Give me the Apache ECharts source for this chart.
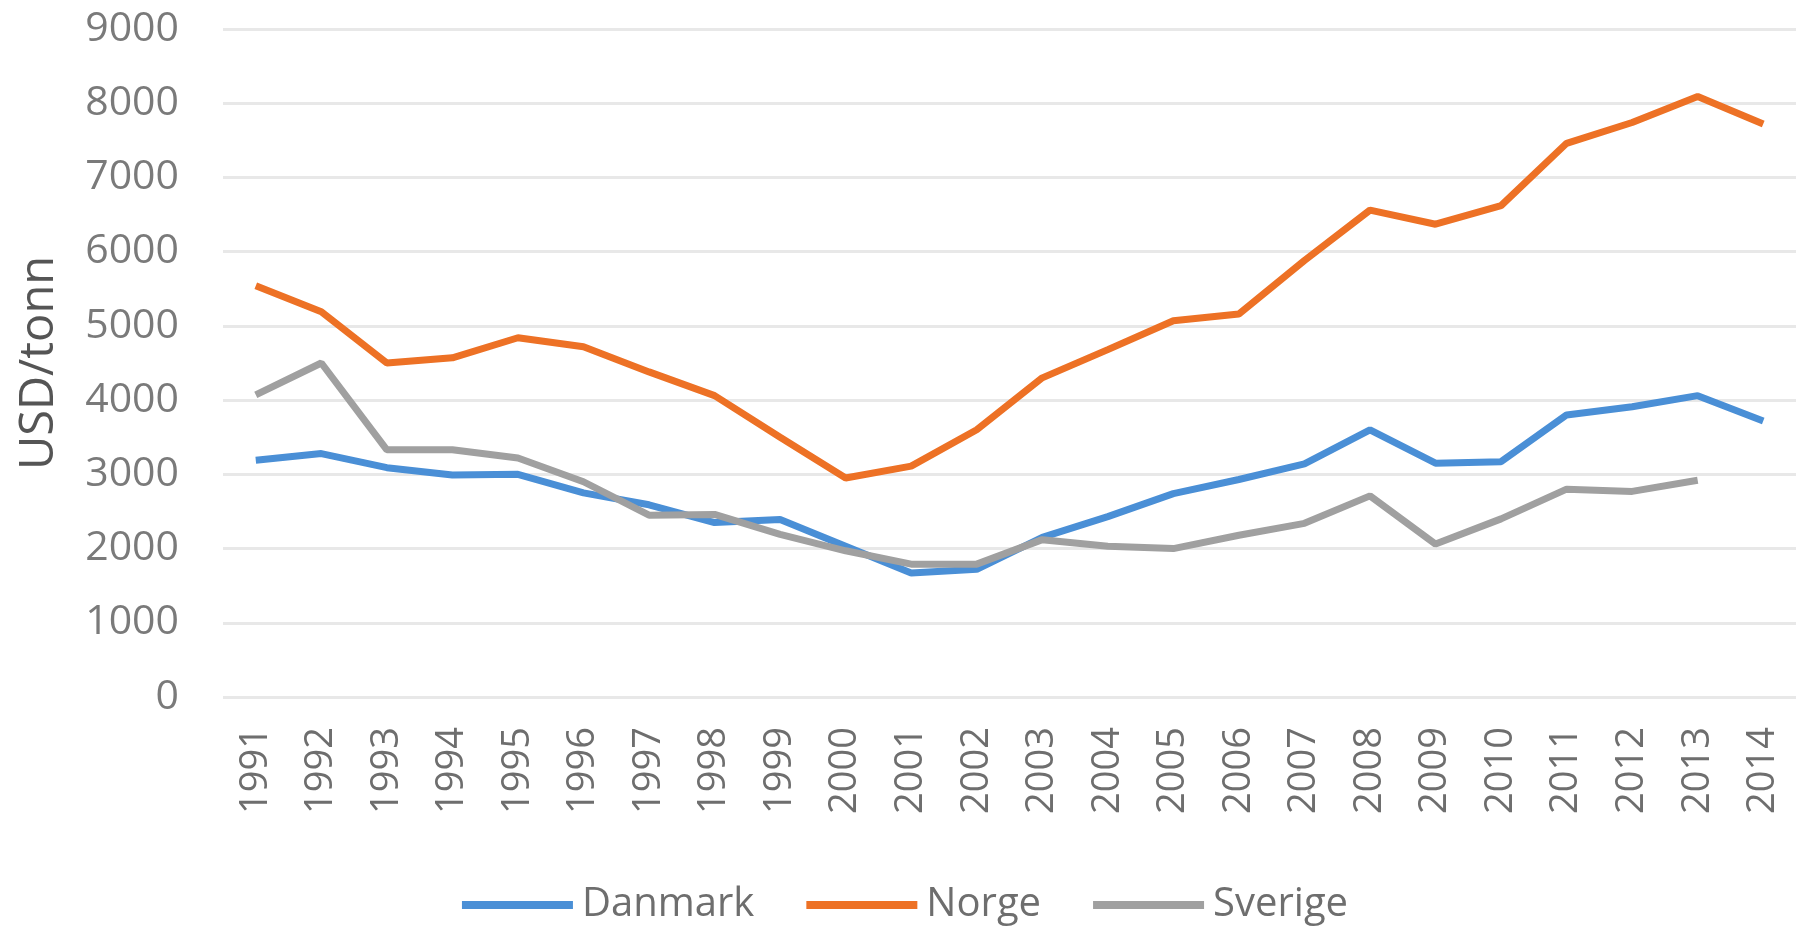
<!DOCTYPE html>
<html>
<head>
<meta charset="utf-8">
<script src="https://cdn.jsdelivr.net/npm/echarts@6/dist/echarts.min.js"></script>
<style>
  html, body { margin: 0; padding: 0; background: #fff; }
  #main { width: 1810px; height: 930px; }
</style>
</head>
<body>
<div id="main"></div>
<script>
// år
var years = ['1991', '1992', '1993', '1994', '1995', '1996', '1997', '1998', '1999', '2000',
  '2001', '2002', '2003', '2004', '2005', '2006', '2007', '2008', '2009', '2010',
  '2011', '2012', '2013', '2014'];

// USD/tonn
var danmark = [3190, 3280, 3090, 2990, 3000, 2750, 2590, 2350, 2390, 2030,
  1670, 1720, 2150, 2430, 2740, 2930, 3140, 3600, 3150, 3170,
  3800, 3910, 4060, 3720];
var norge = [5540, 5190, 4500, 4570, 4840, 4720, 4380, 4060, 3500, 2950,
  3110, 3600, 4300, 4680, 5070, 5160, 5880, 6560, 6370, 6620,
  7460, 7740, 8090, 7720];
var sverige = [4070, 4500, 3330, 3330, 3220, 2900, 2450, 2460, 2190, 1970,
  1790, 1790, 2120, 2030, 2000, 2180, 2340, 2710, 2060, 2400,
  2800, 2770, 2920, null];

var yTicks = { min: 0, max: 9000, interval: 1000 };

var fontName = '"Open Sans", "Noto Sans", sans-serif';

var myChart = echarts.init(document.getElementById('main'));

var option = {
  animation: false,
  color: ['#4a8fd6', '#ed7125', '#a0a0a0'],
  grid: { left: 223, right: 14, top: 29, bottom: 233 },
  legend: {
    bottom: 0,
    left: 'center',
    itemWidth: 111,
    itemHeight: 8,
    itemGap: 52,
    icon: 'rect',
    textStyle: { fontFamily: fontName, fontSize: 40, color: '#6e6e6e', padding: [0, 0, 0, 4] },
    data: ['Danmark', 'Norge', 'Sverige']
  },
  xAxis: {
    type: 'category',
    data: years,
    boundaryGap: true,
    axisLine: { show: false },
    axisTick: { show: false },
    axisLabel: {
      rotate: 90,
      interval: 0,
      margin: 30,
      fontFamily: fontName,
      fontSize: 38,
      color: '#6e6e6e'
    }
  },
  yAxis: {
    type: 'value',
    min: yTicks.min,
    max: yTicks.max,
    interval: yTicks.interval,
    name: 'USD/tonn',
    nameLocation: 'middle',
    nameGap: 160,
    nameRotate: 90,
    nameTextStyle: { fontFamily: fontName, fontSize: 47, color: '#555555' },
    axisLine: { show: false },
    axisTick: { show: false },
    axisLabel: {
      margin: 44,
      fontFamily: fontName,
      fontSize: 41,
      color: '#7a7a7a',
      formatter: function (v) { return String(v); }
    },
    splitLine: { lineStyle: { color: '#e8e8e8', width: 3 } }
  },
  series: [
    { name: 'Danmark', type: 'line', data: danmark, symbol: 'none', lineStyle: { width: 7 } },
    { name: 'Norge', type: 'line', data: norge, symbol: 'none', lineStyle: { width: 7 } },
    { name: 'Sverige', type: 'line', data: sverige, symbol: 'none', lineStyle: { width: 7 } }
  ]
};

myChart.setOption(option);
</script>
</body>
</html>
